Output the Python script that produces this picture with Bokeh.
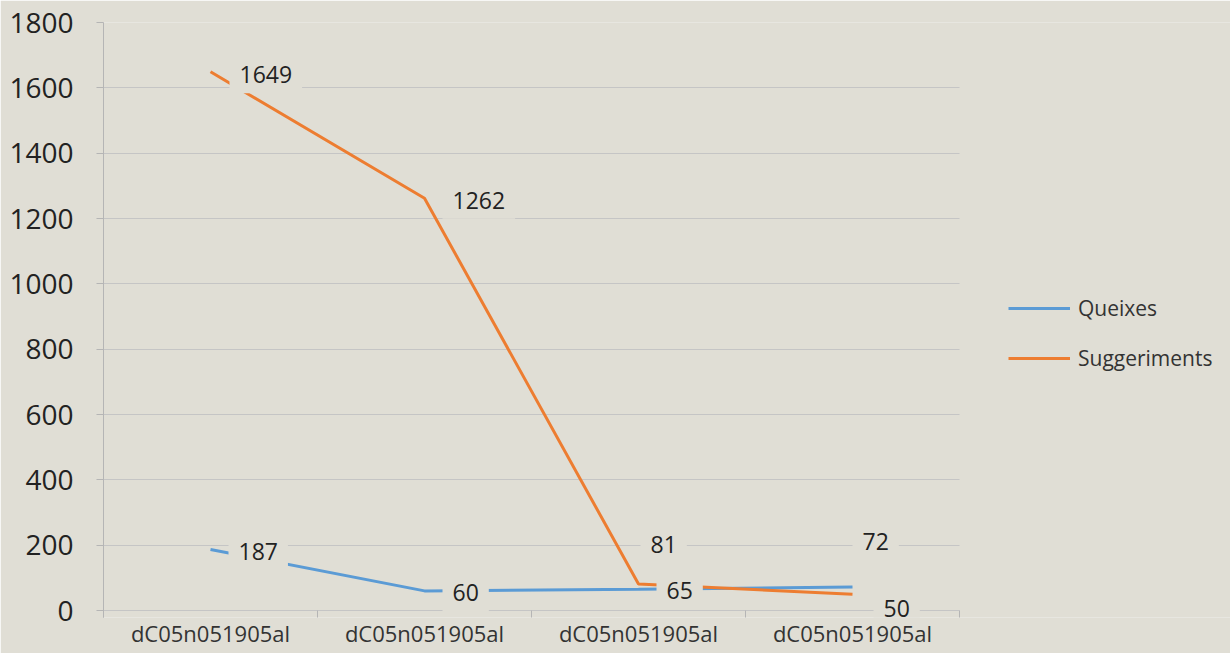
from bokeh.plotting import figure
from bokeh.models import Range1d, FixedTicker, Label, Legend, LegendItem
from bokeh.embed import file_html
from bokeh.resources import INLINE

# ---- data ----
categories = ["dC05n051905al", "dC05n051905al", "dC05n051905al", "dC05n051905al"]
queixes = [187, 60, 65, 72]
suggeriments = [1649, 1262, 81, 50]
y_ticks = [0, 200, 400, 600, 800, 1000, 1200, 1400, 1600, 1800]

# label offsets (screen px, to the box edge incl. padding)
q_off = [(18, -2), (18, -2), (18, -1), (0, 45)]
s_off = [(19, -3), (18, -2), (2, 40), (21, -14)]

BG = "#e0ded5"
BLUE = "#5b9bd5"
ORANGE = "#ed7d31"
FONT = "Open Sans"

xs = [i + 0.5 for i in range(len(categories))]
n = len(categories)

# frame extends 7px below the zero line; frame continues right to hold the legend
y_pad = 7 * 1800 / 588
x_end = n * 1127 / 856

p = figure(width=1230, height=653, output_backend="svg", toolbar_location=None,
           x_range=Range1d(0, x_end), y_range=Range1d(-y_pad, 1800),
           min_border_left=103, min_border_right=0, min_border_top=22, min_border_bottom=36)
p.background_fill_color = BG
p.border_fill_color = BG
p.outline_line_color = None

# grid
p.xgrid.visible = False
p.ygrid.grid_line_color = "#c5c5c5"
p.ygrid.grid_line_width = 1
p.ygrid.cross_bounds = (0, n)

# y axis
p.yaxis.ticker = FixedTicker(ticks=y_ticks)
p.yaxis.axis_line_color = "#b5b5b5"
p.yaxis.major_tick_line_color = "#b5b5b5"
p.yaxis.major_tick_out = 7
p.yaxis.major_tick_in = 0
p.yaxis.minor_tick_line_color = None
p.yaxis.major_label_text_font = FONT
p.yaxis.major_label_text_font_size = "28px"
p.yaxis.major_label_text_color = "#222222"
p.yaxis.major_label_standoff = 23

# x axis
p.xaxis.ticker = FixedTicker(ticks=xs, minor_ticks=list(range(n + 1)))
p.xaxis.major_label_overrides = {x: c for x, c in zip(xs, categories)}
p.xaxis.axis_line_color = None
p.xaxis.major_tick_line_color = None
p.xaxis.major_tick_out = 0
p.xaxis.major_tick_in = 0
p.xaxis.minor_tick_line_color = "#b5b5b5"
p.xaxis.minor_tick_out = 0
p.xaxis.minor_tick_in = 7
p.xaxis.major_label_text_font = FONT
p.xaxis.major_label_text_font_size = "22px"
p.xaxis.major_label_text_color = "#333333"
p.xaxis.major_label_standoff = 0

rq = p.line(xs, queixes, line_color=BLUE, line_width=3)
rs = p.line(xs, suggeriments, line_color=ORANGE, line_width=3)

for vals, offs in ((queixes, q_off), (suggeriments, s_off)):
    for x, v, (dx, dy) in zip(xs, vals, offs):
        p.add_layout(Label(x=x, y=v, text=str(v), x_offset=dx, y_offset=dy,
                           text_align="left", text_baseline="middle",
                           text_font=FONT, text_font_size="23px", text_color="#222222",
                           background_fill_color=BG, padding=10))

legend = Legend(items=[LegendItem(label="Queixes", renderers=[rq]),
                       LegendItem(label="Suggeriments", renderers=[rs])],
                location=(905, 245), orientation="vertical")
legend.background_fill_alpha = 0
legend.border_line_color = None
legend.padding = 0
legend.margin = 0
legend.spacing = 22
legend.glyph_width = 62
legend.glyph_height = 20
legend.label_standoff = 8
legend.label_text_font = FONT
legend.label_text_font_size = "21px"
legend.label_text_color = "#333333"
p.add_layout(legend, "center")

open("out.html", "w").write(file_html(p, INLINE))
